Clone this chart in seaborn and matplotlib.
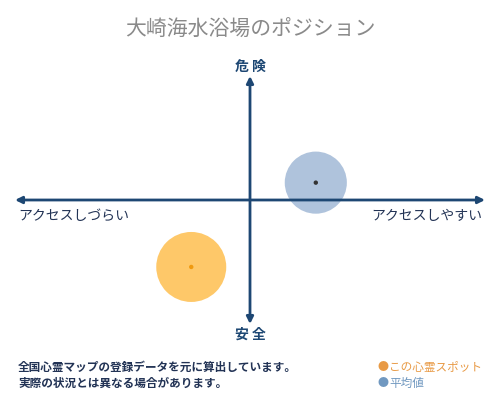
import matplotlib
matplotlib.use("Agg")
import matplotlib.pyplot as plt
import seaborn as sns

# chart text and values
title = "大崎海水浴場のポジション"
y_labels = ["安 全", "危 険"]
x_labels = ["アクセスしづらい", "アクセスしやすい"]
series = ["この心霊スポット", "平均値"]
access = [-2.5, 2.8]     # horizontal position
danger = [-5.4, 1.4]     # vertical position
notes = ["全国心霊マップの登録データを元に算出しています。",
         "実際の状況とは異なる場合があります。"]

navy = "#1d4773"
fill_colors = ["#fec869", "#afc3dc"]
dot_colors = ["#f09a10", "#333333"]
text_colors = ["#e89a45", "#7098c0"]
sizes = [2540, 2000]

sns.set_theme(style="white")
plt.rcParams["font.family"] = ["Noto Sans CJK JP", "DejaVu Sans"]

fig = plt.figure(figsize=(5, 4), dpi=100)
ax = fig.add_axes([0.03, 0.19, 0.94, 0.62])
ax.set_xlim(-10, 10)
ax.set_ylim(-10, 10)
ax.axis("off")

# the two axis arrows
arrow = dict(arrowstyle="<|-|>", color=navy, lw=2, mutation_scale=10,
             shrinkA=0, shrinkB=0)
ax.annotate("", xy=(10, 0), xytext=(-10, 0), arrowprops=arrow, zorder=5)
ax.annotate("", xy=(0, 10), xytext=(0, -10), arrowprops=arrow, zorder=5)

# circles and their centre dots
for i in range(len(series)):
    sns.scatterplot(x=[access[i]], y=[danger[i]], s=sizes[i], color=fill_colors[i],
                    edgecolor="none", ax=ax, zorder=3)
    sns.scatterplot(x=[access[i]], y=[danger[i]], s=10, color=dot_colors[i],
                    edgecolor="none", ax=ax, zorder=6)

fig.text(0.5, 1 - 30 / 400, title, ha="center", va="center", fontsize=15, color="#8a8a8a")
fig.text(0.5, 1 - 67 / 400, y_labels[1], ha="center", va="center", fontsize=10,
         fontweight="bold", color=navy)
fig.text(0.5, 1 - 335 / 400, y_labels[0], ha="center", va="center", fontsize=10,
         fontweight="bold", color=navy)
fig.text(18 / 500, 1 - 216 / 400, x_labels[0], ha="left", va="center", fontsize=10,
         color="#223355")
fig.text(482 / 500, 1 - 216 / 400, x_labels[1], ha="right", va="center", fontsize=10,
         color="#223355")

for j, line in enumerate(notes):
    fig.text(18 / 500, 1 - (367 + 16 * j) / 400, line, ha="left", va="center",
             fontsize=8.4, fontweight="bold", color="#223355")

for j, name in enumerate(series):
    y = 1 - (367 + 16 * j) / 400
    fig.text(377 / 500, y, "●", ha="left", va="center", fontsize=8, color=text_colors[j])
    fig.text(389 / 500, y, name, ha="left", va="center", fontsize=8.4, color=text_colors[j])

fig.savefig("out.png", dpi=100, facecolor="white")
